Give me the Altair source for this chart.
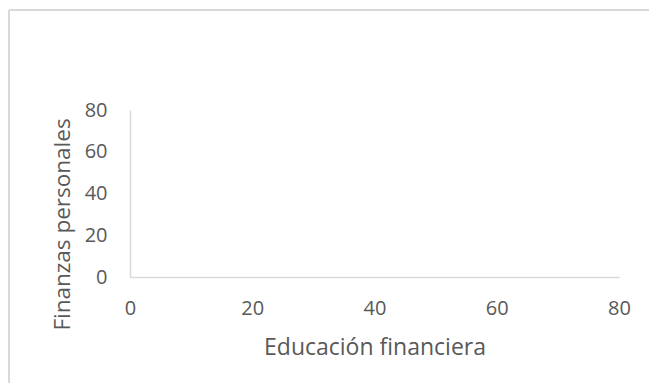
import altair as alt
import pandas as pd

# Data (the reference scatter shows no visible points)
educacion = []
finanzas = []
x_ticks = [0, 20, 40, 60, 80]
y_ticks = [0, 20, 40, 60, 80]

df = pd.DataFrame({"Educación financiera": pd.Series(educacion, dtype=float),
                   "Finanzas personales": pd.Series(finanzas, dtype=float)})

FONT = "Open Sans"
GRAY = "#595959"
LINE = "#d9d9d9"

points = alt.Chart(df).mark_point(filled=True, color="#4472c4", size=40).encode(
    x=alt.X("Educación financiera:Q",
            scale=alt.Scale(domain=[0, 80], nice=False, zero=True),
            axis=alt.Axis(values=x_ticks, grid=False, ticks=False, domain=True,
                          domainColor=LINE, domainWidth=1.5,
                          labelFont=FONT, labelFontSize=20, labelColor=GRAY,
                          labelPadding=21, labelFlush=False,
                          title="Educación financiera", titleFont=FONT,
                          titleFontSize=23, titleColor=GRAY, titleFontWeight="normal",
                          titleBaseline="middle", titleY=70)),
    y=alt.Y("Finanzas personales:Q",
            scale=alt.Scale(domain=[0, 80], nice=False, zero=True),
            axis=alt.Axis(values=y_ticks, grid=False, ticks=False, domain=True,
                          domainColor=LINE, domainWidth=1.5,
                          labelFont=FONT, labelFontSize=20, labelColor=GRAY,
                          labelPadding=23, labelFlush=False,
                          title="Finanzas personales", titleFont=FONT,
                          titleFontSize=22.5, titleColor=GRAY, titleFontWeight="normal",
                          titleAngle=270, titleBaseline="middle", titleAlign="center",
                          titleX=-68, titleY=114)),
)

frame_top = alt.Chart(pd.DataFrame({"k": [0]})).mark_rule(color=LINE, strokeWidth=2).encode(
    x=alt.value(-121), x2=alt.value(560), y=alt.value(-100))
frame_left = alt.Chart(pd.DataFrame({"k": [0]})).mark_rule(color=LINE, strokeWidth=2).encode(
    x=alt.value(-121), y=alt.value(-100), y2=alt.value(320))

chart = alt.layer(frame_top, frame_left, points).properties(
    width=489, height=167,
    autosize=alt.AutoSizeParams(type="none"),
    padding={"left": 122, "top": 102, "right": 30, "bottom": 106},
    view=alt.ViewBackground(stroke="transparent", strokeWidth=0),
).configure_view(stroke="transparent", strokeWidth=0).configure(background="white")

chart.save("out.html", embed_options={"renderer": "svg", "actions": False})
